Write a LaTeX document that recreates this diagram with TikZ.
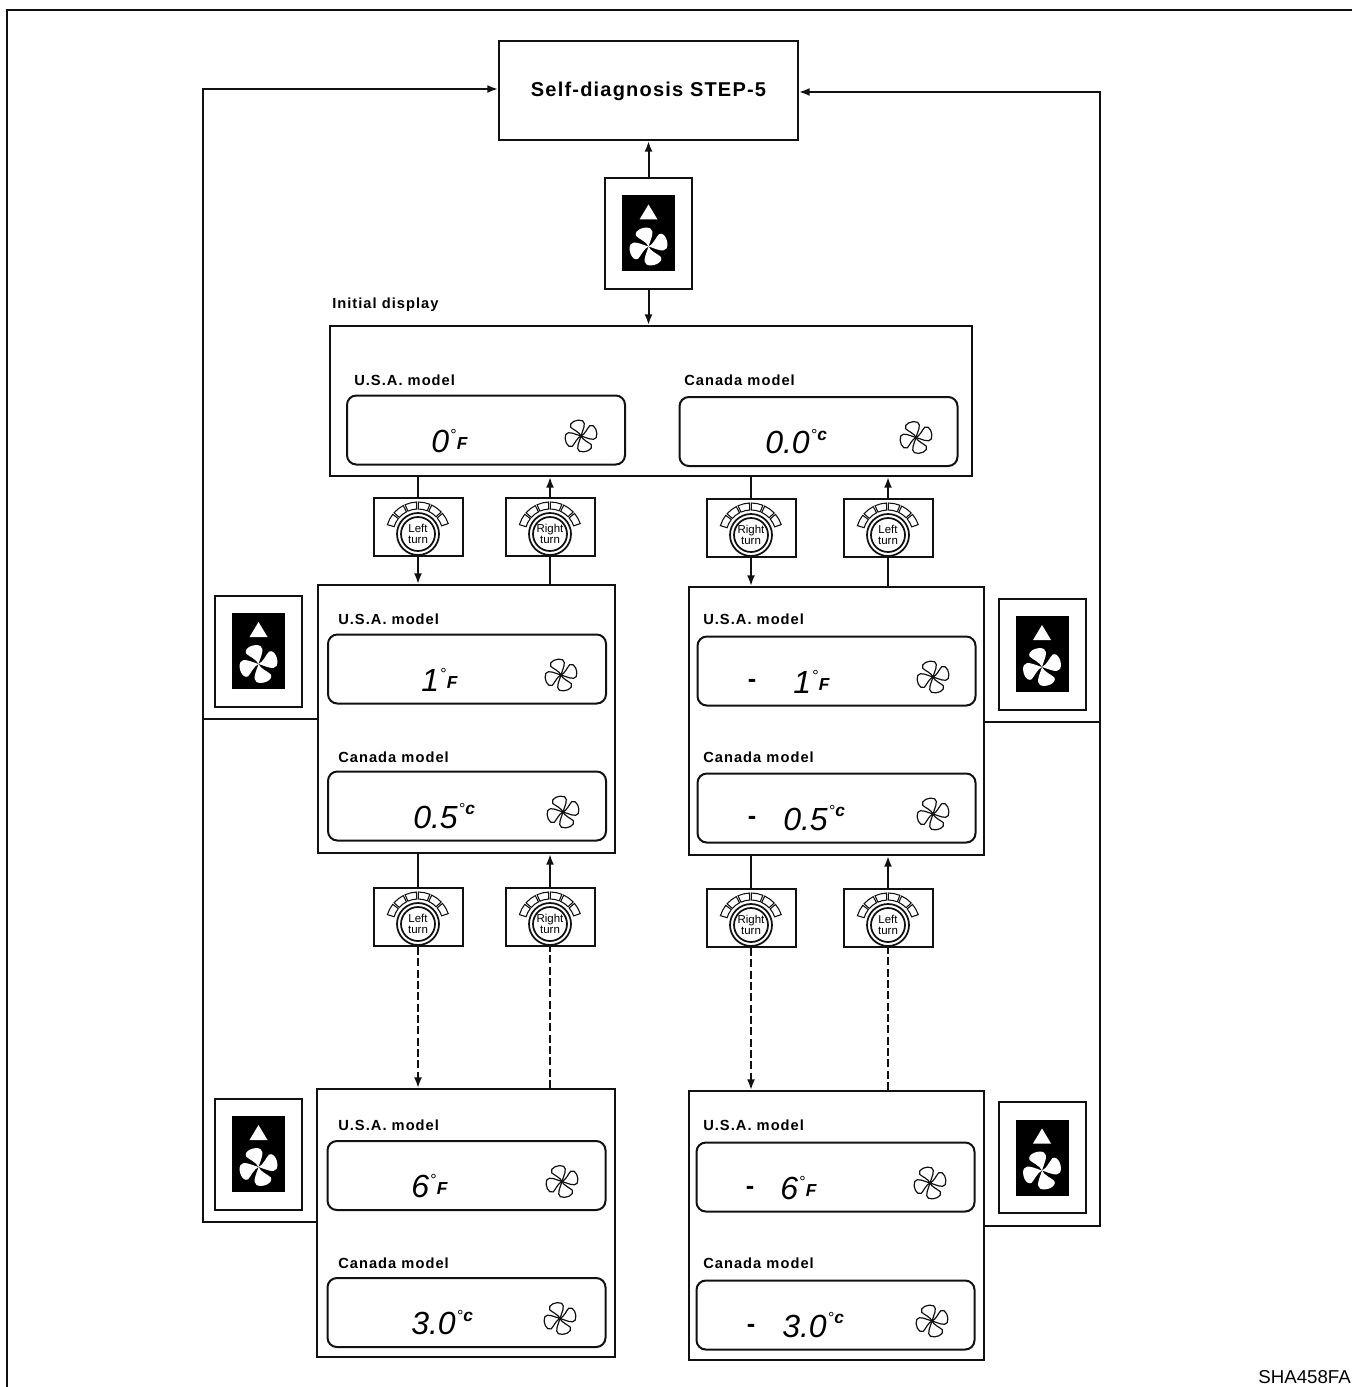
\documentclass[tikz,border=0pt]{standalone}
\usepackage{fontspec}
\setmainfont{Liberation Sans}
\usetikzlibrary{arrows.meta,positioning,calc}
\definecolor{PanelInk}{HTML}{111111}
\def\pxu{0.75pt}
\tikzset{
panel/.style={draw=PanelInk, line width=1.5pt, fill=white, inner sep=0pt},
lcd/.style={draw=PanelInk, line width=1.5pt, fill=white, rounded corners=7pt, minimum width=278*\pxu, minimum height=69*\pxu, inner sep=0pt},
tag/.style={font=\fontsize{11}{12}\bfseries\addfontfeature{LetterSpace=7}, anchor=west, inner sep=0pt},
link/.style={draw=PanelInk, line width=1.5pt},
flow/.style={link, -{Latex[length=8pt,width=6pt]}},
brokenline/.style={dash pattern=on 6pt off 2.5pt},
petal/.style={line width=0.9pt, line join=round},
minus/.style={inner sep=0pt, font=\fontsize{19}{19}\bfseries}
}
\newcommand{\fanblades}[4]{% x, y, scale, style
\foreach \ang in {0,90,180,270}
\path[#4, shift={(#1,#2)}, scale=#3, rotate=\ang] (0,0) .. controls (-2,-5) and (-10,-8) .. (-13,-11) .. controls (-16,-17) and (-4,-22) .. (2,-19) .. controls (7,-16) and (2,-7) .. (0,0);
}
\newcommand{\fanbutton}[3]{% name, x, y
\node[panel, minimum width=87*\pxu, minimum height=111*\pxu] (#1) at (#2,#3) {};
\node[fill=black, inner sep=0pt, minimum width=53*\pxu, minimum height=76*\pxu] (#1blk) at (#2,#3) {};
\fill[white] ($(#2,#3)+(-9,-14)$) -- ($(#2,#3)+(9,-14)$) -- ($(#2,#3)+(0,-29)$) -- cycle;
\fanblades{#2}{#3+13}{0.95}{fill=white}
}
\newcommand{\turnknob}[5]{% name, x, y, first line, second line
\node[panel, minimum width=89*\pxu, minimum height=58*\pxu] (#1) at (#2,#3) {};
\foreach \idx in {0,...,5}
\draw[PanelInk, line width=0.8pt, shift={(#2,#3+7)}, yscale=-1, rotate=\idx*24.6]
(163:25) arc[start angle=163, end angle=142, radius=25] -- (142:32) arc[start angle=142, end angle=163, radius=32] -- cycle;
\node[circle, draw=PanelInk, line width=1.3pt, fill=white, minimum size=42*\pxu, inner sep=0pt] (#1out) at (#2,#3+7) {};
\node[circle, draw=PanelInk, line width=1.3pt, align=center, minimum size=34*\pxu, inner sep=0pt, font=\fontsize{8.6}{8.4}\selectfont] (#1in) at (#2,#3+7) {#4\\#5};
}
\newcommand{\readout}[6]{% name, x, y, text x, text, fan x
\node[lcd] (#1) at (#2,#3) {};
\node[anchor=base west, inner sep=0pt] (#1val) at (#4,#3+22) {#5};
\fanblades{#6}{#3+6}{0.8}{draw=PanelInk, fill=white, petal}
}
\newcommand{\lcdbig}[1]{{\fontsize{24}{24}\itshape #1}}
\newcommand{\lcdsmall}[1]{{\fontsize{13}{13}\bfseries\itshape #1}}
\newcommand{\degF}{\raisebox{9pt}{\fontsize{12}{12}\selectfont\kern1pt°}\raisebox{2pt}{\lcdsmall{F}}}
\newcommand{\degC}{\raisebox{10pt}{\fontsize{12}{12}\selectfont\kern1pt°}\raisebox{10pt}{\lcdsmall{c}}}
\begin{document}
\begin{tikzpicture}[x=0.75pt,y=-0.75pt]
\useasboundingbox (0,0) rectangle (1352,1387);
\coordinate (frameA) at (1352,10);
\coordinate (frameB) at (7,10);
\coordinate (frameC) at (7,1387);
\draw[line width=1pt, PanelInk] (frameA) -- (frameB) -- (frameC);
% top of the chart
\node[panel, minimum width=299*\pxu, minimum height=99*\pxu, text height=11pt, text depth=2pt, font=\fontsize{15}{16}\bfseries\addfontfeature{LetterSpace=6}] (selfdiag) at (648.5,90.5) {Self-diagnosis STEP-5};
\fanbutton{btntop}{648.5}{233.5}
\node[tag] (initlabel) at (332,305) {Initial display};
\node[panel, minimum width=642*\pxu, minimum height=150*\pxu] (initial) at (651,401) {};
\node[tag] (initusa) at (354,380) {U.S.A. model};
\node[tag] (initcan) at (684,380) {Canada model};
\readout{lcdusa}{486}{430}{431}{\lcdbig{0}\degF}{581}
\readout{lcdcan}{818.5}{431.5}{765}{\lcdbig{0.0}\degC}{916}
% first step boxes
\node[panel, minimum width=297*\pxu, minimum height=268*\pxu] (leftone) at (466.5,719) {};
\node[panel, minimum width=295*\pxu, minimum height=268*\pxu] (rightone) at (836.5,721) {};
\node[tag] (usaone) at (338,619) {U.S.A. model};
\node[tag] (canone) at (338,757) {Canada model};
\node[tag] (usaoneb) at (703,619) {U.S.A. model};
\node[tag] (canoneb) at (703,757) {Canada model};
\readout{lcdA}{467}{669}{421}{\lcdbig{1}\degF}{561}
\readout{lcdB}{467}{806}{413}{\lcdbig{0.5}\degC}{563}
\readout{lcdC}{836.5}{671}{793}{\lcdbig{1}\degF}{933}
\readout{lcdD}{836.5}{808}{783}{\lcdbig{0.5}\degC}{933}
\node[minus] (dashC) at (752,683) {-};
\node[minus] (dashD) at (752,820) {-};
% last step boxes
\node[panel, minimum width=298*\pxu, minimum height=268*\pxu] (lefttwo) at (466,1223) {};
\node[panel, minimum width=295*\pxu, minimum height=269*\pxu] (righttwo) at (836.5,1225.5) {};
\node[tag] (usatwo) at (338,1125) {U.S.A. model};
\node[tag] (cantwo) at (338,1263) {Canada model};
\node[tag] (usatwob) at (703,1125) {U.S.A. model};
\node[tag] (cantwob) at (703,1263) {Canada model};
\readout{lcdE}{466.5}{1175.5}{411}{\lcdbig{6}\degF}{562}
\readout{lcdF}{466.5}{1312.5}{411}{\lcdbig{3.0}\degC}{560}
\readout{lcdG}{835.5}{1177}{780}{\lcdbig{6}\degF}{930}
\readout{lcdH}{835.5}{1315}{782}{\lcdbig{3.0}\degC}{932}
\node[minus] (dashG) at (750,1190) {-};
\node[minus] (dashH) at (751,1328) {-};
% knobs
\turnknob{knobA}{418}{527}{Left}{turn}
\turnknob{knobB}{550}{527}{Right}{turn}
\turnknob{knobC}{751}{528}{Right}{turn}
\turnknob{knobD}{888}{528}{Left}{turn}
\turnknob{knobE}{418}{917}{Left}{turn}
\turnknob{knobF}{550}{917}{Right}{turn}
\turnknob{knobG}{751}{918}{Right}{turn}
\turnknob{knobH}{888}{918}{Left}{turn}
% side buttons
\fanbutton{btnleftA}{258.5}{651}
\fanbutton{btnrightA}{1042}{654}
\fanbutton{btnleftB}{258.5}{1154}
\fanbutton{btnrightB}{1042}{1157.5}
% connectors
\draw[flow] (btntop.north) -- (selfdiag.south -| btntop);
\draw[flow] (btntop.south) -- (initial.north -| btntop);
\draw[link] (knobA.north |- initial.south) -- (knobA.north);
\draw[flow] (knobA.south) -- (knobA.south |- leftone.north);
\draw[link] (knobB.south |- leftone.north) -- (knobB.south);
\draw[flow] (knobB.north) -- (knobB.north |- initial.south);
\draw[link] (knobC.north |- initial.south) -- (knobC.north);
\draw[flow] (knobC.south) -- (knobC.south |- rightone.north);
\draw[link] (knobD.south |- rightone.north) -- (knobD.south);
\draw[flow] (knobD.north) -- (knobD.north |- initial.south);
\draw[link] (knobE.north |- leftone.south) -- (knobE.north);
\draw[flow, brokenline] (knobE.south) -- (knobE.south |- lefttwo.north);
\draw[link, brokenline] (knobF.south |- lefttwo.north) -- (knobF.south);
\draw[flow] (knobF.north) -- (knobF.north |- leftone.south);
\draw[link] (knobG.north |- rightone.south) -- (knobG.north);
\draw[flow, brokenline] (knobG.south) -- (knobG.south |- righttwo.north);
\draw[link, brokenline] (knobH.south |- righttwo.north) -- (knobH.south);
\draw[flow] (knobH.north) -- (knobH.north |- rightone.south);
% return lines
\coordinate (railL) at (203,89);
\coordinate (railR) at (1100,92);
\draw[flow] (lefttwo.west |- 0,1222) -| (railL) -- (railL -| selfdiag.west);
\draw[link] (leftone.west |- 0,719) -- (railL |- 0,719);
\draw[flow] (righttwo.east |- 0,1226) -| (railR) -- (railR -| selfdiag.east);
\draw[link] (rightone.east |- 0,722) -- (railR |- 0,722);
\node[anchor=base east, inner sep=0pt, font=\fontsize{14}{16}\selectfont] (partno) at (1351,1383) {SHA458FA};
\end{tikzpicture}
\end{document}
